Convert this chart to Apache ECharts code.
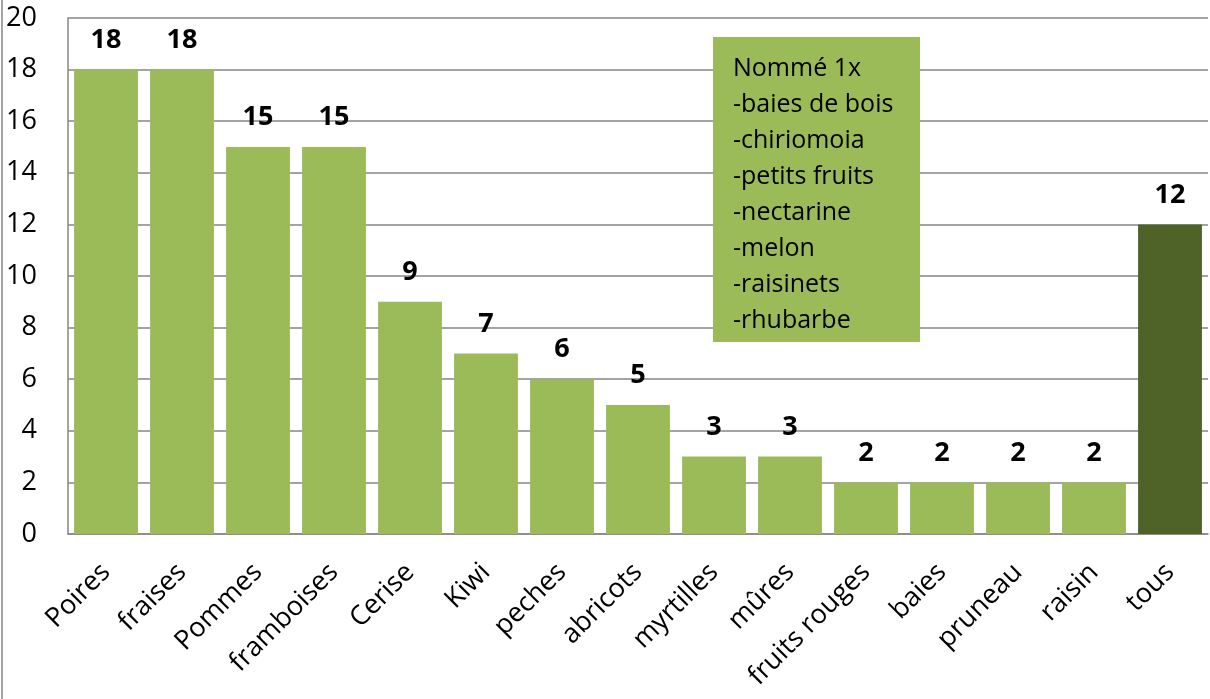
<!DOCTYPE html>
<html>
<head>
<meta charset="utf-8">
<script src="https://cdn.jsdelivr.net/npm/echarts@6/dist/echarts.min.js"></script>
<style>
  html, body { margin: 0; padding: 0; background: #ffffff; }
  #main { width: 1210px; height: 699px; }
</style>
</head>
<body>
<div id="main"></div>
<script>
const fruits = ['Poires', 'fraises', 'Pommes', 'framboises', 'Cerise', 'Kiwi', 'peches', 'abricots',
  'myrtilles', 'mûres', 'fruits rouges', 'baies', 'pruneau', 'raisin', 'tous'];
const counts = [18, 18, 15, 15, 9, 7, 6, 5, 3, 3, 2, 2, 2, 2, 12];
const nommeUneFois = ['Nommé 1x', '-baies de bois', '-chiriomoia', '-petits fruits',
  '-nectarine', '-melon', '-raisinets', '-rhubarbe'];

const font = "'Open Sans', 'Noto Sans', sans-serif";

let myChart = echarts.init(document.getElementById('main'));
let option = {
  animation: false,
  grid: {
    left: 68,
    right: 2,
    top: 18,
    bottom: 165
  },
  xAxis: {
    type: 'category',
    data: fruits,
    axisLine: { lineStyle: { color: '#868686', width: 1.5 } },
    axisTick: { show: false },
    axisLabel: {
      interval: 0,
      rotate: 45,
      margin: 34,
      color: '#000',
      fontFamily: font,
      fontSize: 27
    }
  },
  yAxis: {
    type: 'value',
    min: 0,
    max: 20,
    interval: 2,
    axisLine: { show: true, lineStyle: { color: '#868686', width: 1.5 } },
    axisTick: { show: false },
    splitLine: { lineStyle: { color: '#868686', width: 1.5 } },
    axisLabel: {
      margin: 31,
      color: '#000',
      fontFamily: font,
      fontSize: 27
    }
  },
  series: [{
    type: 'bar',
    barCategoryGap: '16%',
    data: counts.map((v, i) => ({
      value: v,
      itemStyle: { color: fruits[i] === 'tous' ? '#4F6228' : '#9BBB59' }
    })),
    label: {
      show: true,
      position: 'top',
      distance: 16,
      color: '#000',
      fontWeight: 'bold',
      fontFamily: font,
      fontSize: 27
    }
  }],
  graphic: [
    {
      type: 'line',
      shape: { x1: 2, y1: 0, x2: 2, y2: 699 },
      style: { stroke: '#868686', lineWidth: 1.5 }
    },
    {
      type: 'group',
      left: 713,
      top: 37,
      z: 100,
      children: [
        {
          type: 'rect',
          z: 100,
          shape: { x: 0, y: 0, width: 207, height: 305 },
          style: { fill: '#9BBB59' }
        },
        {
          type: 'text',
          z: 101,
          x: 20,
          y: 14,
          style: {
            text: nommeUneFois.join('\n'),
            fill: '#000',
            font: "25px 'Open Sans', 'Noto Sans', sans-serif",
            lineHeight: 36
          }
        }
      ]
    }
  ]
};
myChart.setOption(option);
</script>
</body>
</html>
